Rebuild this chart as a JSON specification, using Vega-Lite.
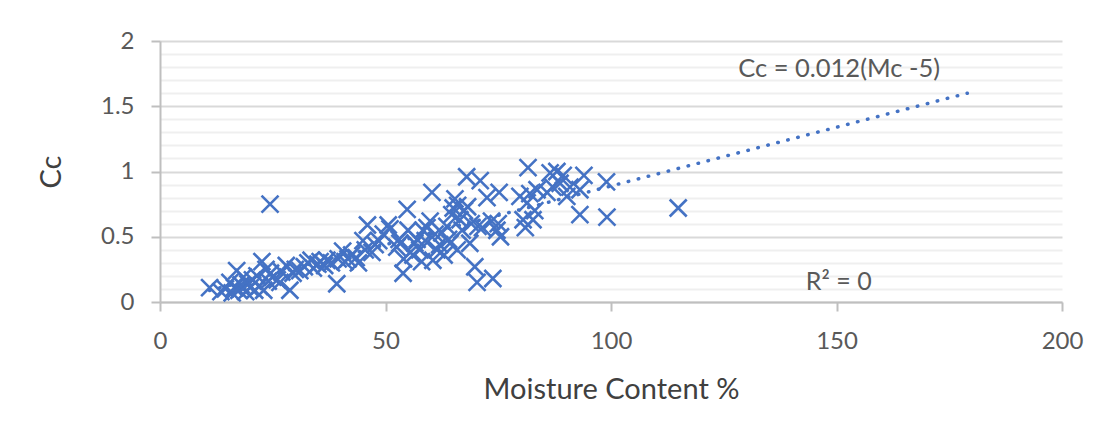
{
  "$schema": "https://vega.github.io/schema/vega-lite/v6.json",
  "width": 902,
  "height": 261,
  "autosize": {"type": "none"},
  "padding": {"left": 160, "top": 41, "right": 56, "bottom": 144},
  "background": "white",
  "config": {
    "view": {"stroke": null},
    "font": "Lato",
    "axis": {
      "labelFont": "Lato",
      "titleFont": "Lato",
      "labelColor": "#595959",
      "titleColor": "#404040",
      "labelFontSize": 24,
      "titleFontSize": 29,
      "titleFontWeight": "normal",
      "labelOverlap": false,
      "labelFlush": false,
      "domainColor": "#bfbfbf",
      "domainWidth": 2,
      "tickColor": "#bfbfbf",
      "tickWidth": 2,
      "tickSize": 9
    }
  },
  "datasets": {
    "samples": [
      {"mc": 11, "cc": 0.11}, {"mc": 13.5, "cc": 0.08}, {"mc": 14.5, "cc": 0.1}, {"mc": 15.5, "cc": 0.15},
      {"mc": 16, "cc": 0.07}, {"mc": 16.5, "cc": 0.11}, {"mc": 17, "cc": 0.24}, {"mc": 17.5, "cc": 0.09},
      {"mc": 18, "cc": 0.13}, {"mc": 18.5, "cc": 0.19}, {"mc": 19, "cc": 0.08}, {"mc": 19.5, "cc": 0.14},
      {"mc": 20, "cc": 0.11}, {"mc": 20.5, "cc": 0.17}, {"mc": 21, "cc": 0.09}, {"mc": 21.5, "cc": 0.2},
      {"mc": 22, "cc": 0.12}, {"mc": 22.6, "cc": 0.31}, {"mc": 23, "cc": 0.09}, {"mc": 23.5, "cc": 0.25},
      {"mc": 24, "cc": 0.16}, {"mc": 24.4, "cc": 0.75}, {"mc": 24.5, "cc": 0.22}, {"mc": 25, "cc": 0.19},
      {"mc": 26, "cc": 0.17}, {"mc": 26.6, "cc": 0.15}, {"mc": 27, "cc": 0.23}, {"mc": 28, "cc": 0.28},
      {"mc": 28.8, "cc": 0.09}, {"mc": 29.5, "cc": 0.22}, {"mc": 30, "cc": 0.25}, {"mc": 31, "cc": 0.24},
      {"mc": 32, "cc": 0.27}, {"mc": 32.8, "cc": 0.3}, {"mc": 33.5, "cc": 0.32}, {"mc": 34, "cc": 0.26},
      {"mc": 35, "cc": 0.29}, {"mc": 35.5, "cc": 0.31}, {"mc": 36.5, "cc": 0.28}, {"mc": 37, "cc": 0.32},
      {"mc": 38, "cc": 0.3}, {"mc": 39.2, "cc": 0.14}, {"mc": 39.5, "cc": 0.33}, {"mc": 40.5, "cc": 0.39},
      {"mc": 41, "cc": 0.31}, {"mc": 41.7, "cc": 0.33}, {"mc": 42.5, "cc": 0.36}, {"mc": 43.5, "cc": 0.34},
      {"mc": 44, "cc": 0.3}, {"mc": 45, "cc": 0.47}, {"mc": 45.5, "cc": 0.4}, {"mc": 46, "cc": 0.59},
      {"mc": 47, "cc": 0.38}, {"mc": 47.7, "cc": 0.44}, {"mc": 48.5, "cc": 0.47}, {"mc": 49.5, "cc": 0.52},
      {"mc": 50.6, "cc": 0.59}, {"mc": 51, "cc": 0.56}, {"mc": 52.5, "cc": 0.42}, {"mc": 53, "cc": 0.48},
      {"mc": 53.2, "cc": 0.45}, {"mc": 53.9, "cc": 0.22}, {"mc": 54, "cc": 0.33}, {"mc": 54.8, "cc": 0.71},
      {"mc": 55, "cc": 0.55}, {"mc": 55.5, "cc": 0.38}, {"mc": 56.1, "cc": 0.36}, {"mc": 56.5, "cc": 0.45},
      {"mc": 57, "cc": 0.48}, {"mc": 57.6, "cc": 0.4}, {"mc": 58, "cc": 0.31}, {"mc": 58.3, "cc": 0.55},
      {"mc": 58.8, "cc": 0.47}, {"mc": 59.2, "cc": 0.57}, {"mc": 59.9, "cc": 0.62}, {"mc": 60.3, "cc": 0.84},
      {"mc": 60.5, "cc": 0.32}, {"mc": 61, "cc": 0.52}, {"mc": 61.4, "cc": 0.4}, {"mc": 62, "cc": 0.44},
      {"mc": 62.5, "cc": 0.53}, {"mc": 63, "cc": 0.36}, {"mc": 63.6, "cc": 0.58}, {"mc": 64, "cc": 0.48},
      {"mc": 64.3, "cc": 0.45}, {"mc": 64.7, "cc": 0.67}, {"mc": 65, "cc": 0.72}, {"mc": 65.4, "cc": 0.79},
      {"mc": 65.9, "cc": 0.4}, {"mc": 66, "cc": 0.74}, {"mc": 66.5, "cc": 0.63}, {"mc": 67, "cc": 0.55},
      {"mc": 67.5, "cc": 0.7}, {"mc": 68, "cc": 0.96}, {"mc": 68.2, "cc": 0.73}, {"mc": 68.7, "cc": 0.45},
      {"mc": 69, "cc": 0.6}, {"mc": 69.8, "cc": 0.27}, {"mc": 70.3, "cc": 0.15}, {"mc": 70.5, "cc": 0.58},
      {"mc": 71, "cc": 0.93}, {"mc": 71.5, "cc": 0.57}, {"mc": 72.5, "cc": 0.8}, {"mc": 73.5, "cc": 0.62},
      {"mc": 73.8, "cc": 0.18}, {"mc": 74.7, "cc": 0.55}, {"mc": 75, "cc": 0.6}, {"mc": 75.2, "cc": 0.84},
      {"mc": 75.5, "cc": 0.5}, {"mc": 79.8, "cc": 0.81}, {"mc": 80.5, "cc": 0.63}, {"mc": 81, "cc": 0.57},
      {"mc": 81.4, "cc": 0.76}, {"mc": 81.6, "cc": 1.03}, {"mc": 82, "cc": 0.83}, {"mc": 82.7, "cc": 0.63},
      {"mc": 83.1, "cc": 0.7}, {"mc": 83.6, "cc": 0.86}, {"mc": 85.8, "cc": 0.84}, {"mc": 86.5, "cc": 0.99},
      {"mc": 87.1, "cc": 0.88}, {"mc": 88, "cc": 1.0}, {"mc": 88.7, "cc": 0.91}, {"mc": 89.4, "cc": 0.97},
      {"mc": 90.2, "cc": 0.81}, {"mc": 90.9, "cc": 0.88}, {"mc": 93.1, "cc": 0.67}, {"mc": 93.1, "cc": 0.86},
      {"mc": 94, "cc": 0.97}, {"mc": 99, "cc": 0.92}, {"mc": 99.1, "cc": 0.65}, {"mc": 114.9, "cc": 0.72}
    ],
    "trend": [
      {"mc": 11, "cc": 0.088},
      {"mc": 179, "cc": 1.6}
    ]
  },
  "resolve": {"axis": {"y": "independent"}},
  "layer": [
    {
      "data": {"values": [{"label": "R² = 0"}]},
      "mark": {"type": "text", "align": "left", "baseline": "middle", "font": "Lato", "fontSize": 25, "color": "#595959"},
      "encoding": {
        "x": {"datum": 143.2, "type": "quantitative", "scale": {"domain": [0, 200], "nice": false}},
        "y": {
          "datum": 0.153,
          "type": "quantitative",
          "scale": {"domain": [0, 2], "nice": false},
          "axis": {
            "orient": "left",
            "values": [0.1, 0.2, 0.3, 0.4, 0.6, 0.7, 0.8, 0.9, 1.1, 1.2, 1.3, 1.4, 1.6, 1.7, 1.8, 1.9],
            "grid": true,
            "gridColor": "#efefef",
            "gridWidth": 2,
            "labels": false,
            "ticks": false,
            "domain": false,
            "title": null
          }
        },
        "text": {"field": "label"}
      }
    },
    {
      "data": {"name": "samples"},
      "mark": {
        "type": "point",
        "shape": "M-1,-1L1,1M-1,1L1,-1",
        "filled": false,
        "size": 289,
        "stroke": "#4472C4",
        "strokeWidth": 2.6,
        "opacity": 1
      },
      "encoding": {
        "x": {
          "field": "mc",
          "type": "quantitative",
          "scale": {"domain": [0, 200], "nice": false},
          "axis": {
            "values": [0, 50, 100, 150, 200],
            "grid": false,
            "labelPadding": 18,
            "title": "Moisture Content %",
            "titlePadding": 22
          }
        },
        "y": {
          "field": "cc",
          "type": "quantitative",
          "scale": {"domain": [0, 2], "nice": false},
          "axis": {
            "orient": "left",
            "values": [0, 0.5, 1, 1.5, 2],
            "format": "~g",
            "grid": true,
            "gridWidth": 2,
            "gridColor": "#d9d9d9",
            "labelPadding": 17,
            "title": "Cc",
            "titleAngle": -90,
            "titlePadding": 34
          }
        }
      }
    },
    {
      "data": {"name": "trend"},
      "mark": {
        "type": "line",
        "stroke": "#4472C4",
        "strokeWidth": 3.5,
        "strokeCap": "round",
        "strokeDash": [0.5, 9.8]
      },
      "encoding": {
        "x": {"field": "mc", "type": "quantitative"},
        "y": {"field": "cc", "type": "quantitative", "axis": null}
      }
    },
    {
      "data": {"values": [{"label": "Cc = 0.012(Mc  -5)"}]},
      "mark": {"type": "text", "align": "left", "baseline": "middle", "font": "Lato", "fontSize": 25.5, "color": "#595959"},
      "encoding": {
        "x": {"datum": 128.2},
        "y": {"datum": 1.785, "axis": null},
        "text": {"field": "label"}
      }
    }
  ]
}
